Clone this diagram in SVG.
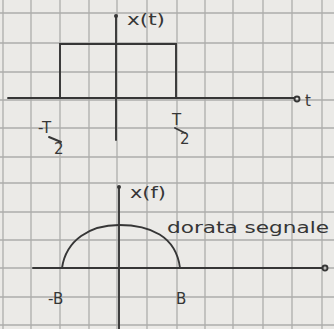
<svg xmlns="http://www.w3.org/2000/svg" width="334" height="329" viewBox="0 0 334 329">
<style>
.grid line{stroke:#adadab;stroke-width:1.3}
.pen{stroke:#363636;stroke-width:1.9;fill:none;stroke-linecap:round}
.t{font-family:"DejaVu Sans","Liberation Sans",sans-serif;fill:#363636;font-size:15px}
</style>
<rect width="334" height="329" fill="#ebeae7"/>
<g class="grid">
<line x1="3" y1="0" x2="3" y2="329"/>
<line x1="31" y1="0" x2="31" y2="329"/>
<line x1="60" y1="0" x2="60" y2="329"/>
<line x1="89" y1="0" x2="89" y2="329"/>
<line x1="117" y1="0" x2="117" y2="329"/>
<line x1="147" y1="0" x2="147" y2="329"/>
<line x1="177" y1="0" x2="177" y2="329"/>
<line x1="205" y1="0" x2="205" y2="329"/>
<line x1="233" y1="0" x2="233" y2="329"/>
<line x1="263" y1="0" x2="263" y2="329"/>
<line x1="292" y1="0" x2="292" y2="329"/>
<line x1="322" y1="0" x2="322" y2="329"/>
<line x1="0" y1="13" x2="334" y2="13"/>
<line x1="0" y1="43" x2="334" y2="43"/>
<line x1="0" y1="72" x2="334" y2="72"/>
<line x1="0" y1="100" x2="334" y2="100"/>
<line x1="0" y1="128" x2="334" y2="128"/>
<line x1="0" y1="157" x2="334" y2="157"/>
<line x1="0" y1="183" x2="334" y2="183"/>
<line x1="0" y1="212" x2="334" y2="212"/>
<line x1="0" y1="240" x2="334" y2="240"/>
<line x1="0" y1="268" x2="334" y2="268"/>
<line x1="0" y1="297" x2="334" y2="297"/>
<line x1="0" y1="325" x2="334" y2="325"/>
</g>
<g id="top-plot">
<line class="pen" x1="116" y1="16" x2="116" y2="140"/>
<circle cx="116" cy="16" r="2" fill="#363636"/>
<line class="pen" x1="8" y1="98" x2="294" y2="98"/>
<circle cx="297" cy="99" r="2.5" class="pen"/>
<polyline class="pen" points="60,98 60,44 176,44 176,98"/>
<text class="t" x="127" y="25" textLength="38" lengthAdjust="spacingAndGlyphs">x(t)</text>
<text class="t" x="305" y="106" font-size="17">t</text>
<text class="t" x="38" y="133" font-size="14">-T</text>
<line class="pen" x1="49" y1="137" x2="61" y2="142" stroke-width="1.5"/>
<text class="t" x="54" y="154" font-size="14">2</text>
<text class="t" x="172" y="125" font-size="14">T</text>
<line class="pen" x1="175" y1="128" x2="185" y2="133" stroke-width="1.5"/>
<text class="t" x="180" y="144" font-size="14">2</text>
</g>
<g id="bottom-plot">
<line class="pen" x1="119" y1="187" x2="119" y2="329"/>
<circle cx="119" cy="187" r="2" fill="#363636"/>
<line class="pen" x1="33" y1="268" x2="322" y2="268"/>
<circle cx="325" cy="268" r="2.5" class="pen"/>
<path class="pen" d="M62,268 C66,240 90,225 119,225 C150,225 176,236 180,268"/>
<text class="t" x="130" y="198" textLength="36" lengthAdjust="spacingAndGlyphs">x(f)</text>
<text class="t" x="167" y="233" font-size="17" textLength="162" lengthAdjust="spacingAndGlyphs">dorata segnale</text>
<text class="t" x="48" y="304" font-size="17">-B</text>
<text class="t" x="176" y="304" font-size="17">B</text>
</g>
</svg>
